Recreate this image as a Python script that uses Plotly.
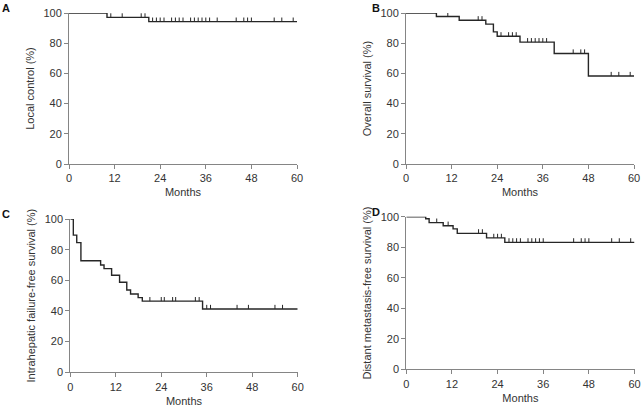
import plotly.graph_objects as go

# ---------------- data ----------------
x_ticks = [0, 12, 24, 36, 48, 60]
y_ticks = [0, 20, 40, 60, 80, 100]
x_label = "Months"

# Panel A: Local control
a_title = "Local control (%)"
a_times = [0, 10, 21]
a_surv = [100, 97.1, 94.3]
a_cens = [8, 11, 14, 19, 20, 22, 23, 24, 25, 27, 28, 29, 30, 32, 33, 34, 35, 36, 37,
          39, 44, 46, 47, 48, 54, 56, 59]

# Panel B: Overall survival
b_title = "Overall survival (%)"
b_times = [0, 8, 14, 21, 23, 24, 30, 39, 48]
b_surv = [100, 97.7, 95.2, 92.6, 87.5, 84.6, 80.7, 73.2, 58.3]
b_cens = [11, 19, 20, 25, 27, 28, 29, 32, 33, 34, 35, 36, 37, 44, 46, 47, 54, 56, 59]

# Panel C: Intrahepatic failure-free survival
c_title = "Intrahepatic failure-free survival (%)"
c_times = [0, 0.8, 1.7, 2.8, 8, 8.9, 10.9, 13, 14.9, 15.9, 17.9, 19, 34.9]
c_surv = [100, 89.5, 84.6, 72.8, 70.0, 67.6, 63.3, 58.7, 53.7, 51.1, 48.7, 46.4, 41.3]
c_cens = [21, 24, 24.8, 27, 27.8, 33, 34, 36, 37, 44, 47, 54, 56]

# Panel D: Distant metastasis-free survival
d_title = "Distant metastasis-free survival (%)"
d_times = [0, 5.1, 6, 9.7, 12.3, 13.4, 21.1, 25.9]
d_surv = [100, 98.7, 96.1, 94.1, 92.0, 89.1, 86.1, 83.2]
d_cens = [8, 11, 19, 20, 23, 24, 25, 27, 28, 29, 30, 32, 33, 34, 35, 36, 44, 46, 47, 48,
          54, 56, 59]

panel_letters = ["A", "B", "C", "D"]

# ---------------- layout geometry (pixels) ----------------
W, H = 641, 408
panels = [
    dict(x0=69, x1=297, y0=13, y1=164),
    dict(x0=406, x1=634, y0=13, y1=164),
    dict(x0=70.3, x1=297.7, y0=219, y1=372.3),
    dict(x0=406.3, x1=634.5, y0=216.7, y1=369.3),
]
letter_pos = [(6, 8), (376, 8), (6, 214), (376, 212)]

series = [
    (a_title, a_times, a_surv, a_cens),
    (b_title, b_times, b_surv, b_cens),
    (c_title, c_times, c_surv, c_cens),
    (d_title, d_times, d_surv, d_cens),
]

CURVE = "#262626"
AXIS = "#858585"
TEXT = "#333333"
FONT = "Liberation Sans, Arial, sans-serif"
TICK_H = 2.7  # censor tick height in % units


def surv_at(times, surv, t):
    s = surv[0]
    for ti, si in zip(times, surv):
        if ti <= t:
            s = si
    return s


fig = go.Figure()
layout = {}
for i, ((title, times, surv, cens), p) in enumerate(zip(series, panels)):
    n = "" if i == 0 else str(i + 1)
    xa, ya = "x" + n, "y" + n
    # step curve
    fig.add_trace(go.Scatter(
        x=list(times) + [60], y=list(surv) + [surv[-1]],
        mode="lines", line=dict(color=CURVE, width=1.4, shape="hv"),
        xaxis=xa, yaxis=ya, showlegend=False, cliponaxis=False, hoverinfo="skip"))
    # censor ticks
    cx, cy = [], []
    for t in cens:
        s = surv_at(times, surv, t)
        cx += [t, t, None]
        cy += [s, s + TICK_H, None]
    fig.add_trace(go.Scatter(
        x=cx, y=cy, mode="lines", line=dict(color=CURVE, width=1),
        xaxis=xa, yaxis=ya, showlegend=False, cliponaxis=False, hoverinfo="skip"))

    common = dict(showline=True, linecolor=AXIS, linewidth=1, ticks="outside",
                  ticklen=4, tickcolor=AXIS, tickwidth=1, showgrid=False, zeroline=False,
                  tickfont=dict(family=FONT, size=11, color=TEXT), automargin=False,
                  fixedrange=True)
    layout["xaxis" + n] = dict(
        domain=[p["x0"] / W, p["x1"] / W], range=[0, 60], tickvals=x_ticks,
        anchor=ya,
        title=dict(text=x_label, font=dict(family=FONT, size=11, color=TEXT), standoff=5),
        **common)
    layout["yaxis" + n] = dict(
        domain=[1 - p["y1"] / H, 1 - p["y0"] / H], range=[0, 100], tickvals=y_ticks,
        anchor=xa,
        title=dict(text=title, font=dict(family=FONT, size=11, color=TEXT), standoff=6),
        **common)

annotations = []
for (lx, ly), L in zip(letter_pos, panel_letters):
    annotations.append(dict(
        x=lx / W, y=1 - ly / H, xref="paper", yref="paper", text="<b>%s</b>" % L,
        showarrow=False, xanchor="center", yanchor="middle",
        font=dict(family=FONT, size=11, color="#111111")))

fig.update_layout(
    width=W, height=H, margin=dict(l=0, r=0, t=0, b=0),
    paper_bgcolor="white", plot_bgcolor="white",
    annotations=annotations, **layout)

fig.write_html(
    "out.html",
    config={"displayModeBar": False},
    post_script="document.body.style.margin='0';document.body.style.overflow='hidden';",
)
